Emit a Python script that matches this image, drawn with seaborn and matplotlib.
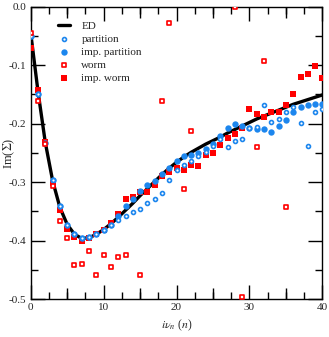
import numpy as np
import pandas as pd
import matplotlib
matplotlib.use("Agg")
import matplotlib.pyplot as plt
import seaborn as sns

# Matsubara index n
n = list(range(41))

# ED reference curve
ed = [-0.045, -0.145, -0.232, -0.297, -0.343, -0.372, -0.389, -0.396, -0.395, -0.389,
      -0.381, -0.371, -0.360, -0.348, -0.336, -0.323, -0.311, -0.299, -0.287, -0.276,
      -0.266, -0.257, -0.249, -0.242, -0.235, -0.229, -0.223, -0.216, -0.210, -0.204,
      -0.198, -0.192, -0.187, -0.182, -0.177, -0.172, -0.167, -0.163, -0.159, -0.155, -0.151]

# partition (open blue circles)
partition = [-0.050, -0.149, -0.233, -0.296, -0.341, -0.373, -0.389, -0.396, -0.394, -0.388,
             -0.381, -0.373, -0.364, -0.357, -0.351, -0.346, -0.336, -0.328, -0.318, -0.297,
             -0.280, -0.271, -0.264, -0.256, -0.248, -0.238, -0.227, -0.240, -0.230, -0.227,
             -0.207, -0.205, -0.169, -0.197, -0.192, -0.180, -0.172, -0.199, -0.238, -0.181, -0.175]

# improved partition (filled blue circles)
imp_partition = [-0.050, -0.149, -0.233, -0.296, -0.341, -0.373, -0.389, -0.396, -0.394, -0.388,
                 -0.381, -0.373, -0.358, -0.341, -0.328, -0.315, -0.304, -0.298, -0.286, -0.276,
                 -0.263, -0.256, -0.254, -0.251, -0.243, -0.234, -0.221, -0.208, -0.201, -0.204,
                 -0.208, -0.209, -0.210, -0.214, -0.204, -0.193, -0.181, -0.172, -0.169, -0.166, -0.166]

# worm (open red squares), nan = outside the plotted range
worm = [-0.045, -0.162, -0.235, -0.307, -0.366, -0.396, -0.442, -0.439, -0.418, -0.459,
        -0.424, -0.445, -0.427, -0.424, np.nan, -0.459, np.nan, np.nan, -0.162, -0.029,
        np.nan, -0.311, -0.213, np.nan, np.nan, np.nan, np.nan, np.nan, 0.0, -0.496,
        np.nan, -0.240, -0.093, np.nan, np.nan, -0.342, np.nan, np.nan, np.nan, np.nan, np.nan]

# improved worm (filled red squares)
imp_worm = [-0.071, -0.142, -0.232, -0.302, -0.347, -0.380, -0.394, -0.401, -0.395, -0.388,
            -0.382, -0.369, -0.355, -0.329, -0.326, -0.317, -0.317, -0.305, -0.290, -0.283,
            -0.275, -0.280, -0.270, -0.272, -0.253, -0.250, -0.236, -0.224, -0.217, -0.207,
            -0.175, -0.183, -0.189, -0.180, -0.181, -0.169, -0.149, -0.120, -0.115, -0.102, -0.122]

y_major = [-0.5, -0.4, -0.3, -0.2, -0.1, 0.0]
y_minor = [-0.45, -0.35, -0.25, -0.15, -0.05]

df = pd.DataFrame({"n": n, "ED": ed, "partition": partition, "imp. partition": imp_partition,
                   "worm": worm, "imp. worm": imp_worm})

sns.set_style("ticks")
plt.rcParams["font.family"] = ["Liberation Serif", "DejaVu Serif"]
plt.rcParams["mathtext.fontset"] = "stix"
plt.rcParams["axes.unicode_minus"] = False
plt.rcParams["font.size"] = 8

blue = "#1c86ee"
red = "#ff0000"

fig = plt.figure(figsize=(3.29, 3.37), dpi=100)
ax = fig.add_axes([0.0933, 0.1119, 0.8867, 0.8688])

sns.lineplot(data=df, x="n", y="ED", color="black", linewidth=2.4, label="ED", ax=ax, zorder=2)
sns.scatterplot(data=df, x="n", y="imp. worm", marker="s", s=24, color=red, linewidth=0,
                label="imp. worm", ax=ax, zorder=3)
sns.scatterplot(data=df, x="n", y="imp. partition", marker="o", s=21, color=blue, linewidth=0,
                label="imp. partition", ax=ax, zorder=4)
sns.scatterplot(data=df, x="n", y="partition", marker="o", s=8, facecolor="white", edgecolor=blue,
                linewidth=1.2, label="partition", ax=ax, zorder=5)
sns.scatterplot(data=df, x="n", y="worm", marker="s", s=10, facecolor="white", edgecolor=red,
                linewidth=1.2, label="worm", ax=ax, zorder=6)

ax.set_xlim(0, 40)
ax.set_ylim(-0.5, 0.0)
ax.set_xticks([0, 10, 20, 30, 40])
ax.set_xticks(np.arange(0, 40.1, 2.5), minor=True)
ax.set_yticks(y_major)
ax.set_yticks(y_minor, minor=True)
ax.set_yticklabels(["%.1f" % v if v != 0 else "0.0" for v in y_major])
ax.tick_params(which="both", direction="in", top=True, right=True, width=1.0, color="black",
               labelsize=8, pad=3)
ax.tick_params(which="major", length=10)
ax.tick_params(which="minor", length=5)

# medium ticks at 5, 15, 25, 35
for side in ["bottom", "top"]:
    sec = ax.secondary_xaxis(side)
    sec.set_xticks([5, 15, 25, 35])
    sec.tick_params(direction="in", length=8, width=1.0, color="black", labelbottom=False,
                    labeltop=False)
    sec.spines[side].set_visible(False)

for sp in ax.spines.values():
    sp.set_linewidth(1.0)
    sp.set_color("black")

ax.set_xlabel(r"$i\nu_n$ ($n$)", fontsize=8.5, labelpad=4)
ax.set_ylabel(r"Im($\Sigma$)", fontsize=9)
ax.yaxis.set_label_coords(-0.046, 0.5)

handles, labels = ax.get_legend_handles_labels()
order = ["ED", "partition", "imp. partition", "worm", "imp. worm"]
hmap = dict(zip(labels, handles))
ax.legend([hmap[k] for k in order], order, loc="upper left", bbox_to_anchor=(0.075, 0.97),
          frameon=False, fontsize=8, handlelength=1.1, handletextpad=1.0, labelspacing=0.3,
          borderpad=0)

fig.savefig("out.png", dpi=100)
